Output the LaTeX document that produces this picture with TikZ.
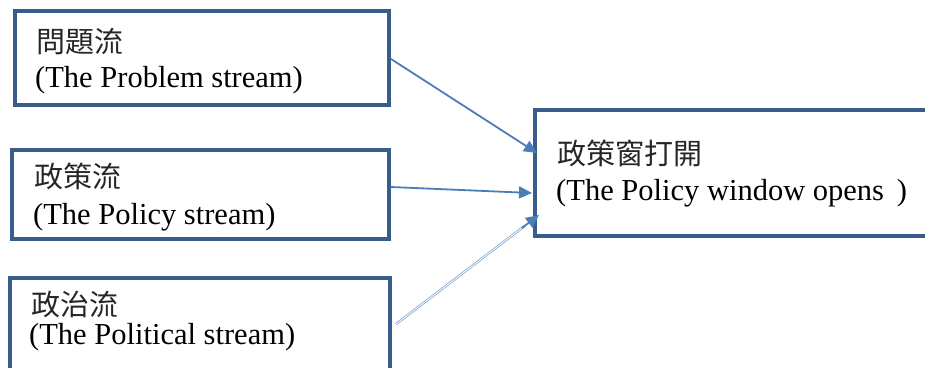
\documentclass[tikz,border=0pt]{standalone}
\usepackage{fontspec}
\setmainfont{Liberation Serif}
\newfontfamily\cjk{Noto Sans CJK TC}
\usetikzlibrary{arrows.meta,calc}
\definecolor{boxblue}{HTML}{385D8A}
\definecolor{arrowblue}{HTML}{4A7EBB}
\tikzset{
  box/.style={draw=boxblue, line width=4pt, rectangle, inner sep=0pt, fill=none},
  cjktext/.style={anchor=base west, inner sep=0pt, font=\cjk\fontsize{29}{31}\selectfont, text=black!85},
  lattext/.style={anchor=base west, inner sep=0pt, font=\fontsize{30.5}{32}\selectfont, text=black},
  conn/.style={draw=arrowblue, line width=1.8pt, -{Triangle[length=13pt,width=12pt]}},
  dblconn/.style={draw=arrowblue!75, line width=0.7pt, double=white, double distance=0.9pt},
  tiponly/.style={draw=arrowblue, line width=1.8pt, -{Triangle[length=13pt,width=12pt]}},
}
\begin{document}
\begin{tikzpicture}[x=1pt,y=-1pt]
\clip (0,0) rectangle (925,367);
\fill[white] (0,0) rectangle (925,367);
% boxes
\node[box, minimum width=374pt, minimum height=94pt] (p1) at (202,58) {};
\node[box, minimum width=377pt, minimum height=89pt] (p2) at (200.5,194.5) {};
\node[box, minimum width=380.5pt, minimum height=122pt] (p3) at (199.75,339) {};
\node[box, minimum width=425pt, minimum height=126pt] (w) at (747.5,173) {};
% texts
\node[cjktext] (p1a) at (36,52) {問題流};
\node[lattext] (p1b) at (35,87) {(The Problem stream)};
\node[cjktext] (p2a) at (34,187) {政策流};
\node[lattext] (p2b) at (33,224) {(The Policy stream)};
\node[cjktext] (p3a) at (31,315) {政治流};
\node[lattext] (p3b) at (29,344) {(The Political stream)};
\node[cjktext] (wa) at (557,164) {政策窗打開};
\node[lattext] (wb) at (556,200) {(The Policy window opens\hspace{0.42em})};
% connector end points
\coordinate (s1) at (391,59);
\coordinate (e1) at (537,153);
\coordinate (s2) at (391,187);
\coordinate (e2) at (532,193);
\coordinate (s3) at (396,324);
\coordinate (e3) at (539,215);
% connectors
\draw[conn] (s1) -- (e1);
\draw[conn] (s2) -- (e2);
\draw[dblconn] (s3) -- ($(s3)!0.9!(e3)$);
\draw[tiponly] ($(s3)!0.88!(e3)$) -- (e3);
\end{tikzpicture}
\end{document}
